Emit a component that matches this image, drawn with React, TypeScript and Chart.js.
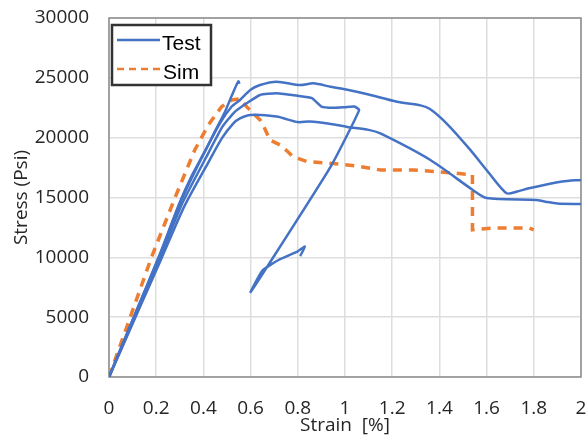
import { useEffect, useRef } from 'react';
import { Chart, registerables } from 'chart.js';

Chart.register(...registerables);

// Test specimen 1 (short, breaks early)
const testAStrain = [0, 0.105, 0.21, 0.3, 0.35, 0.41, 0.456, 0.49, 0.52, 0.548, 0.553];
const testAStress = [0, 5000, 10000, 14600, 16800, 19000, 20800, 22100, 23500, 24700, 24500];

// Test specimen 2 (highest)
const testBStrain = [0, 0.105, 0.21, 0.305, 0.4, 0.47, 0.52, 0.555, 0.6, 0.64, 0.71, 0.81, 0.866, 0.94, 1.01, 1.1, 1.22, 1.32, 1.36, 1.43, 1.53, 1.61, 1.685, 1.73, 1.78, 1.92, 2.0];
const testBStress = [0, 5000, 9900, 14700, 18600, 21200, 22600, 23150, 24000, 24400, 24680, 24400, 24540, 24250, 24000, 23600, 23000, 22700, 22400, 21200, 19000, 17050, 15350, 15500, 15770, 16330, 16470];

// Test specimen 3 (middle, with unloading)
const testCStrain = [0, 0.11, 0.215, 0.31, 0.41, 0.48, 0.53, 0.583, 0.64, 0.71, 0.8, 0.86, 0.9, 0.95, 1.0, 1.04, 1.06, 0.94, 0.67, 0.6, 0.65, 0.72, 0.8, 0.83, 0.81];
const testCStress = [0, 5000, 9900, 14500, 18300, 20900, 22100, 22870, 23570, 23710, 23500, 23300, 22600, 22500, 22550, 22600, 22300, 17600, 9200, 7100, 8900, 9800, 10500, 10900, 10100];

// Test specimen 4 (lowest)
const testDStrain = [0, 0.11, 0.22, 0.32, 0.42, 0.48, 0.527, 0.555, 0.6, 0.71, 0.8, 0.85, 0.94, 1.01, 1.1, 1.15, 1.36, 1.54, 1.6, 1.81, 1.85, 1.9, 2.0];
const testDStress = [0, 4900, 9800, 14300, 17900, 20000, 21200, 21620, 21900, 21760, 21300, 21350, 21150, 20900, 20650, 20350, 18150, 15650, 14950, 14800, 14650, 14500, 14450];

// Simulation
const simStrain = [0, 0.09, 0.18, 0.28, 0.364, 0.421, 0.477, 0.52, 0.556, 0.583, 0.64, 0.653, 0.682, 0.725, 0.758, 0.78, 0.84, 0.95, 1.06, 1.15, 1.29, 1.4, 1.54, 1.54, 1.63, 1.78, 1.8];
const simStress = [0, 5000, 10000, 15000, 19000, 21060, 22590, 23150, 23250, 22590, 21480, 21060, 19800, 19390, 18830, 18400, 18000, 17850, 17600, 17300, 17300, 17150, 16900, 12300, 12450, 12450, 12300];

const xTicksMin = 0;
const xTicksMax = 2;
const xTickStep = 0.2;
const yTicksMin = 0;
const yTicksMax = 30000;
const yTickStep = 5000;

const legendLabels = ['Test', 'Sim'];

const BLUE = '#4472C4';
const ORANGE = '#ED7D31';

const pts = (xs: number[], ys: number[]) => xs.map((x, i) => ({ x, y: ys[i] }));

const zeroPad = (scale: any) => {
  scale.paddingLeft = 0;
  scale.paddingRight = 0;
  scale.paddingTop = 0;
  scale.paddingBottom = 0;
};

export default function App() {
  const ref = useRef<HTMLCanvasElement | null>(null);

  useEffect(() => {
    if (!ref.current) return;

    const frame = {
      id: 'frame',
      beforeDatasetsDraw(chart: any) {
        const { ctx, chartArea: a } = chart;
        ctx.save();
        ctx.strokeStyle = '#8c8c8c';
        ctx.lineWidth = 1.5;
        ctx.strokeRect(a.left, a.top, a.right - a.left, a.bottom - a.top);
        ctx.restore();
      },
    };

    const legendBox = {
      id: 'legendBox',
      afterDatasetsDraw(chart: any) {
        const { ctx } = chart;
        ctx.save();
        const x0 = 112, y0 = 25, w = 99, h = 60;
        ctx.fillStyle = '#ffffff';
        ctx.fillRect(x0, y0, w, h);
        ctx.strokeStyle = '#333333';
        ctx.lineWidth = 2.5;
        ctx.strokeRect(x0, y0, w, h);
        ctx.lineWidth = 2.5;
        ctx.strokeStyle = BLUE;
        ctx.beginPath();
        ctx.moveTo(117, 40);
        ctx.lineTo(160, 40);
        ctx.stroke();
        ctx.strokeStyle = ORANGE;
        ctx.setLineDash([7, 5]);
        ctx.beginPath();
        ctx.moveTo(117, 69);
        ctx.lineTo(160, 69);
        ctx.stroke();
        ctx.setLineDash([]);
        ctx.fillStyle = '#000000';
        ctx.font = '21px "Liberation Sans", Arial, sans-serif';
        ctx.textBaseline = 'alphabetic';
        ctx.textAlign = 'left';
        ctx.fillText(legendLabels[0], 162, 50);
        ctx.fillText(legendLabels[1], 163, 79);
        ctx.restore();
      },
    };

    const testStyle = {
      borderColor: BLUE,
      backgroundColor: BLUE,
      borderWidth: 2.5,
      pointRadius: 0,
      showLine: true,
      tension: 0.25,
      fill: false,
    };

    const chart = new Chart(ref.current, {
      type: 'scatter',
      data: {
        datasets: [
          { label: 'Test', data: pts(testAStrain, testAStress), ...testStyle },
          { label: 'Test B', data: pts(testBStrain, testBStress), ...testStyle },
          { label: 'Test C', data: pts(testCStrain, testCStress), ...testStyle, tension: 0.15 },
          { label: 'Test D', data: pts(testDStrain, testDStress), ...testStyle },
          {
            label: 'Sim',
            data: pts(simStrain, simStress),
            borderColor: ORANGE,
            backgroundColor: ORANGE,
            borderWidth: 3.5,
            borderDash: [9, 7],
            pointRadius: 0,
            showLine: true,
            tension: 0,
            fill: false,
          },
        ],
      },
      options: {
        responsive: false,
        animation: false,
        layout: { padding: { left: 0, right: 6, top: 18, bottom: 0 } },
        plugins: {
          legend: { display: false },
          tooltip: { enabled: false },
        },
        scales: {
          x: {
            type: 'linear',
            min: xTicksMin,
            max: xTicksMax,
            afterFit(scale: any) { scale.height = 62; zeroPad(scale); },
            ticks: {
              stepSize: xTickStep,
              color: '#262626',
              padding: 20,
              font: { family: '"Open Sans", sans-serif', size: 19 },
              callback: (v: any) => Number(v).toFixed(1).replace(/\.0$/, ''),
              maxRotation: 0,
              autoSkip: false,
            },
            grid: { color: '#dedede', lineWidth: 1.5, drawTicks: false },
            border: { display: false },
            title: {
              display: true,
              text: 'Strain  [%]',
              color: '#262626',
              font: { family: '"Open Sans", sans-serif', size: 19 },
              padding: { top: 0, bottom: 2 },
            },
          },
          y: {
            type: 'linear',
            min: yTicksMin,
            max: yTicksMax,
            afterFit(scale: any) { scale.width = 109; zeroPad(scale); },
            ticks: {
              stepSize: yTickStep,
              color: '#262626',
              padding: 20,
              font: { family: '"Open Sans", sans-serif', size: 19 },
              callback: (v: any) => String(v),
            },
            grid: { color: '#dedede', lineWidth: 1.5, drawTicks: false },
            border: { display: false },
            title: {
              display: true,
              text: 'Stress (Psi)',
              color: '#262626',
              font: { family: '"Open Sans", sans-serif', size: 19 },
              padding: { top: 10, bottom: 0 },
            },
          },
        },
      },
      plugins: [frame, legendBox],
    });

    return () => chart.destroy();
  }, []);

  return (
    <div style={{ position: 'fixed', left: 0, top: 0, width: 587, height: 439, background: '#fff' }}>
      <canvas ref={ref} width={587} height={439} style={{ display: 'block' }} />
    </div>
  );
}
